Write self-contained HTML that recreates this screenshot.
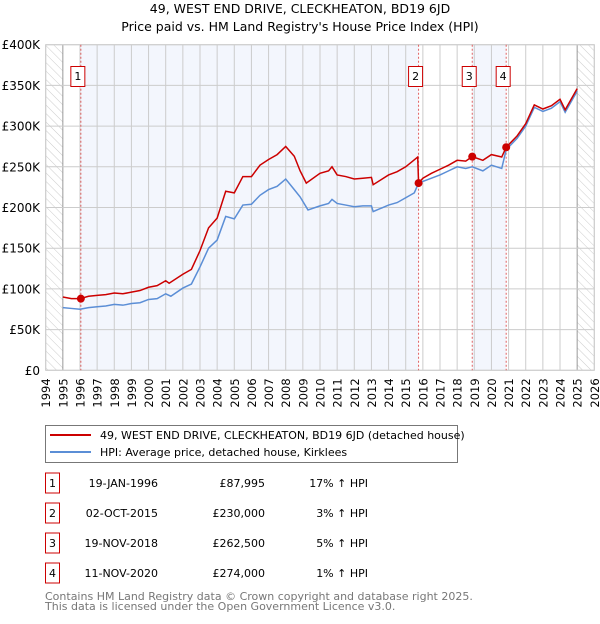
<!DOCTYPE html>
<html><head><meta charset="utf-8"><style>
body{margin:0;background:#fff;font-family:"DejaVu Sans","Liberation Sans",sans-serif;}
svg text{font-family:"DejaVu Sans","Liberation Sans",sans-serif;}
</style></head><body>
<svg id="c" width="600" height="620" viewBox="0 0 600 620" xmlns="http://www.w3.org/2000/svg">
<defs><pattern id="hatch" width="6" height="6" patternUnits="userSpaceOnUse" patternTransform="rotate(-45)"><line x1="0" y1="0" x2="0" y2="6" stroke="#ccc" stroke-width="1"/></pattern></defs>
<text x="300" y="13" text-anchor="middle" font-size="12.5">49, WEST END DRIVE, CLECKHEATON, BD19 6JD</text>
<text x="300" y="31" text-anchor="middle" font-size="12.5">Price paid vs. HM Land Registry's House Price Index (HPI)</text>
<g id="plot"></g>
<g>
<rect x="45.5" y="425.5" width="412" height="37" fill="#fff" stroke="#777"/>
<line x1="50" y1="435" x2="91" y2="435" stroke="#cc0000" stroke-width="2"/>
<text x="100" y="439" font-size="11">49, WEST END DRIVE, CLECKHEATON, BD19 6JD (detached house)</text>
<line x1="50" y1="452" x2="91" y2="452" stroke="#5b8ed6" stroke-width="2"/>
<text x="100" y="456" font-size="11">HPI: Average price, detached house, Kirklees</text>
</g>
<g id="tbl" font-size="11"></g>
<text x="45" y="600" font-size="11" fill="#777">Contains HM Land Registry data © Crown copyright and database right 2025.</text>
<text x="45" y="610" font-size="11" fill="#777">This data is licensed under the Open Government Licence v3.0.</text>
</svg>
<script>
const yearTicks=[1994,1995,1996,1997,1998,1999,2000,2001,2002,2003,2004,2005,2006,2007,2008,2009,2010,2011,2012,2013,2014,2015,2016,2017,2018,2019,2020,2021,2022,2023,2024,2025,2026];
const priceTicks=[0,50000,100000,150000,200000,250000,300000,350000,400000];
const priceTickLabels=["£0","£50K","£100K","£150K","£200K","£250K","£300K","£350K","£400K"];
const hpiYears=[1995,1995.5,1996,1996.5,1997,1997.5,1998,1998.5,1999,1999.5,2000,2000.5,2001,2001.3,2002,2002.5,2003,2003.5,2004,2004.5,2005,2005.5,2006,2006.5,2007,2007.5,2008,2008.5,2008.84,2009.3,2010,2010.5,2010.7,2011,2011.5,2012,2012.5,2013,2013.1,2014,2014.5,2015,2015.5,2015.75,2016,2016.5,2017,2017.5,2018,2018.5,2018.88,2019.5,2020,2020.6,2020.86,2021.5,2022,2022.5,2023,2023.5,2024,2024.3,2025];
const hpiValues=[77,76,75,77,78,79,81,80,82,83,87,88,94,91,101,106,127,150,160,189,186,203,204,215,222,226,235,222,213,197,202,205,210,205,203,201,202,202,195,203,206,212,218,230,232,236,240,245,250,248,250,245,252,248,271,285,300,323,318,322,330,317,343];
const redYears=[1995,1995.5,1996,1996.5,1997,1997.5,1998,1998.5,1999,1999.5,2000,2000.5,2001,2001.2,2002,2002.5,2003,2003.5,2004,2004.5,2005,2005.5,2006,2006.5,2007,2007.5,2008,2008.5,2008.84,2009.2,2010,2010.5,2010.7,2011,2011.5,2012,2012.5,2013,2013.1,2014,2014.5,2015,2015.7,2015.75,2016,2016.5,2017,2017.5,2018,2018.5,2018.88,2019.5,2020,2020.6,2020.86,2021.5,2022,2022.5,2023,2023.5,2024,2024.3,2025];
const redValues=[90,88,88,91,92,93,95,94,96,98,102,104,110,107,118,124,147,175,187,220,218,238,238,252,259,265,275,263,245,230,242,245,250,240,238,235,236,237,228,240,244,250,262,230,236,242,247,252,258,257,262.5,258,265,262,274,288,303,326,321,325,333,320,346];
const saleYears=[1996.05,2015.75,2018.88,2020.86];
const salePrices=[87.995,230,262.5,274];
const saleLabels=["1","2","3","4"];
const saleDates=["19-JAN-1996","02-OCT-2015","19-NOV-2018","11-NOV-2020"];
const salePriceText=["£87,995","£230,000","£262,500","£274,000"];
const salePct=["17% ↑ HPI","3% ↑ HPI","5% ↑ HPI","1% ↑ HPI"];

const X0=45.7,X1=594.3,Y0=370.3,Y1=44.7;
const xs=y=>X0+(y-1994)/32*(X1-X0);
const ys=v=>Y0-v/400000*(Y0-Y1);
const NS="http://www.w3.org/2000/svg";
const plot=document.getElementById('plot');
function mk(tag,attrs,parent){const e=document.createElementNS(NS,tag);for(const k in attrs)e.setAttribute(k,attrs[k]);(parent||plot).appendChild(e);return e;}
let e;
e=mk('rect',{x:X0,y:Y1,width:X1-X0,height:Y0-Y1,fill:'#fff'});


e=mk('rect',{x:xs(1996.05),y:Y1,width:xs(2015.75)-xs(1996.05),height:Y0-Y1,fill:'#f3f6fd'});


e=mk('rect',{x:xs(2018.88),y:Y1,width:xs(2020.86)-xs(2018.88),height:Y0-Y1,fill:'#f3f6fd'});


e=mk('rect',{x:xs(1994),y:Y1,width:xs(1995)-xs(1994),height:Y0-Y1,fill:'url(#hatch)'});


e=mk('rect',{x:xs(2025),y:Y1,width:xs(2026)-xs(2025),height:Y0-Y1,fill:'url(#hatch)'});


yearTicks.forEach(yr=>{
  const x=xs(yr);
  e=mk('line',{x1:x,y1:Y1,x2:x,y2:Y0,stroke:(yr===1995||yr===2025)?'#999':'#ccc','stroke-width':1});
  
  
  e=mk('text',{x:0,y:0,'font-size':11.5,'text-anchor':'end',transform:`translate(${x+4.5},${Y0+8}) rotate(-90)`});
  e.textContent=yr;
  
  
});
priceTicks.forEach((v,i)=>{
  const y=ys(v);
  e=mk('line',{x1:X0,y1:y,x2:X1,y2:y,stroke:'#ccc','stroke-width':1});
  
  
  e=mk('text',{x:40,y:y+4.5,'font-size':12,'text-anchor':'end'});
  e.textContent=priceTickLabels[i];
  
  
});
e=mk('rect',{x:X0,y:Y1,width:X1-X0,height:Y0-Y1,fill:'none',stroke:'#ccc'});


saleYears.forEach((yr,i)=>{
  const x=xs(yr);
  e=mk('line',{x1:x,y1:Y1,x2:x,y2:Y0,stroke:'#e06060','stroke-width':1,'stroke-dasharray':'2,2'});
  
  
  const bx=x-10;
  e=mk('rect',{x:bx,y:66.5,width:14,height:20,fill:'#fff',stroke:'#cc0000'});
  
  
  e=mk('text',{x:bx+7,y:80,'font-size':11,'text-anchor':'middle'});
  e.textContent=saleLabels[i];
  
  
});
e=mk('polyline',{points:hpiYears.map((y,i)=>xs(y)+','+ys(hpiValues[i]*1000)).join(' '),fill:'none',stroke:'#5b8ed6','stroke-width':1.5});


e=mk('polyline',{points:redYears.map((y,i)=>xs(y)+','+ys(redValues[i]*1000)).join(' '),fill:'none',stroke:'#cc0000','stroke-width':1.5});


saleYears.forEach((yr,i)=>{
  e=mk('circle',{cx:xs(yr),cy:ys(salePrices[i]*1000),r:4,fill:'#cc0000'});
  
  
});
const tbl=document.getElementById('tbl');
saleLabels.forEach((l,i)=>{
  const cy=483+i*30;
  e=mk('rect',{x:45.5,y:cy-10,width:14,height:20,fill:'#fff',stroke:'#cc0000'},tbl);
  
  
  e=mk('text',{x:52.5,y:cy+4,'text-anchor':'middle'},tbl);
  e.textContent=l;
  
  
  e=mk('text',{x:158,y:cy+4,'text-anchor':'end'},tbl);
  e.textContent=saleDates[i];
  
  
  e=mk('text',{x:265,y:cy+4,'text-anchor':'end'},tbl);
  e.textContent=salePriceText[i];
  
  
  e=mk('text',{x:368,y:cy+4,'text-anchor':'end'},tbl);
  e.textContent=salePct[i];
  
  
});
</script>
</body></html>
